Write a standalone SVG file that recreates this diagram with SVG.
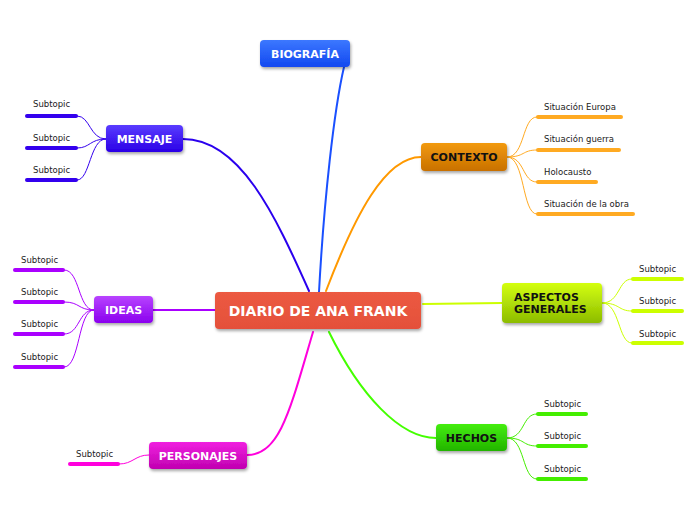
<svg xmlns="http://www.w3.org/2000/svg" width="696" height="520" viewBox="0 0 696 520">
<defs>
<filter id="sh" x="-20%" y="-30%" width="140%" height="170%"><feDropShadow dx="1" dy="2" stdDeviation="1.5" flood-color="#000" flood-opacity="0.35"/></filter>
<linearGradient id="gC" x1="0" y1="0" x2="0" y2="1"><stop offset="0" stop-color="#ec5a42"/><stop offset="1" stop-color="#e4503a"/></linearGradient>
<linearGradient id="gB" x1="0" y1="0" x2="0" y2="1"><stop offset="0" stop-color="#3c78ff"/><stop offset="1" stop-color="#1248f0"/></linearGradient>
<linearGradient id="gM" x1="0" y1="0" x2="0" y2="1"><stop offset="0" stop-color="#5a3cff"/><stop offset="1" stop-color="#2a00e6"/></linearGradient>
<linearGradient id="gX" x1="0" y1="0" x2="0" y2="1"><stop offset="0" stop-color="#f29a10"/><stop offset="1" stop-color="#c87000"/></linearGradient>
<linearGradient id="gA" x1="0" y1="0" x2="0" y2="1"><stop offset="0" stop-color="#d4ff10"/><stop offset="1" stop-color="#8cbc00"/></linearGradient>
<linearGradient id="gH" x1="0" y1="0" x2="0" y2="1"><stop offset="0" stop-color="#44ee10"/><stop offset="1" stop-color="#22b400"/></linearGradient>
<linearGradient id="gI" x1="0" y1="0" x2="0" y2="1"><stop offset="0" stop-color="#b844ff"/><stop offset="1" stop-color="#8a00ee"/></linearGradient>
<linearGradient id="gP" x1="0" y1="0" x2="0" y2="1"><stop offset="0" stop-color="#f020e0"/><stop offset="1" stop-color="#c000b0"/></linearGradient>
</defs>
<style>
.t{font-family:"DejaVu Sans","Liberation Sans",sans-serif;font-weight:bold;font-size:11px;}
.big{font-size:14px;}
.w{fill:#fff;}
.k{fill:#111;}
.s{font-family:"DejaVu Sans","Liberation Sans",sans-serif;font-size:8.5px;fill:#222;}
.c{fill:none;stroke-width:2;stroke-linecap:round;}
.b{fill:none;stroke-width:1;}
.u{stroke-width:4;stroke-linecap:round;}
</style>
<g id="connectors">
<path class="c" stroke="#1a50ff" d="M319,292 C324,200 334,110 344,67"/>
<path class="c" stroke="#2a00ee" d="M183,139 C240,139 275,215 309,291"/>
<path class="c" stroke="#ff9900" d="M326,291 C355,215 385,157 421,157"/>
<path class="c" stroke="#ccff00" d="M423,304 L502,303"/>
<path class="c" stroke="#44ff00" d="M329,332 C360,395 400,438 436,438"/>
<path class="c" stroke="#ff00dd" d="M313,332 C290,410 280,455 247,455"/>
<path class="c" stroke="#aa00ff" d="M215,310 L153,310"/>
<g stroke="#3300ee">
<path class="b" d="M106,139 C90,139 90,116 77,116"/>
<path class="b" d="M106,139 C90,139 90,148 77,148"/>
<path class="b" d="M106,139 C90,139 90,180 77,180"/>
<line class="u" x1="27" y1="116" x2="76" y2="116"/>
<line class="u" x1="27" y1="148" x2="76" y2="148"/>
<line class="u" x1="27" y1="180" x2="76" y2="180"/>
</g>
<g stroke="#ffaa22">
<path class="b" d="M507,157 C525,157 522,117 537,117"/>
<path class="b" d="M507,157 C525,157 522,150 537,150"/>
<path class="b" d="M507,157 C525,157 522,182 537,182"/>
<path class="b" d="M507,157 C525,157 522,214 537,214"/>
<line class="u" x1="538" y1="117" x2="621" y2="117"/>
<line class="u" x1="538" y1="150" x2="619" y2="150"/>
<line class="u" x1="538" y1="182" x2="596" y2="182"/>
<line class="u" x1="538" y1="214" x2="633" y2="214"/>
</g>
<g stroke="#ccff00">
<path class="b" d="M602,303 C620,303 618,279 632,279"/>
<path class="b" d="M602,303 C620,303 618,311 632,311"/>
<path class="b" d="M602,303 C620,303 618,343 632,343"/>
<line class="u" x1="633" y1="279" x2="682" y2="279"/>
<line class="u" x1="633" y1="311" x2="682" y2="311"/>
<line class="u" x1="633" y1="343" x2="682" y2="343"/>
</g>
<g stroke="#44ee00">
<path class="b" d="M507,438 C525,438 522,414 537,414"/>
<path class="b" d="M507,438 C525,438 522,446 537,446"/>
<path class="b" d="M507,438 C525,438 522,479 537,479"/>
<line class="u" x1="538" y1="414" x2="586" y2="414"/>
<line class="u" x1="538" y1="446" x2="586" y2="446"/>
<line class="u" x1="538" y1="479" x2="586" y2="479"/>
</g>
<g stroke="#aa00ff">
<path class="b" d="M94,310 C78,310 80,270 64,270"/>
<path class="b" d="M94,310 C78,310 80,302 64,302"/>
<path class="b" d="M94,310 C78,310 80,334 64,334"/>
<path class="b" d="M94,310 C78,310 80,367 64,367"/>
<line class="u" x1="15" y1="270" x2="63" y2="270"/>
<line class="u" x1="15" y1="302" x2="63" y2="302"/>
<line class="u" x1="15" y1="334" x2="63" y2="334"/>
<line class="u" x1="15" y1="367" x2="63" y2="367"/>
</g>
<g stroke="#ff00dd">
<path class="b" d="M149,455 C135,455 133,464 119,464"/>
<line class="u" x1="70" y1="464" x2="118" y2="464"/>
</g>
</g>
<g id="central"><rect x="215" y="292" width="206" height="37" rx="4" fill="url(#gC)" filter="url(#sh)"/><text class="t w big" x="318" y="316" text-anchor="middle">DIARIO DE ANA FRANK</text></g>
<g id="biografia"><rect x="260" y="40" width="90" height="27" rx="4" fill="url(#gB)" filter="url(#sh)"/><text class="t w" x="305" y="58" text-anchor="middle">BIOGRAFÍA</text></g>
<g id="mensaje"><rect x="106" y="125" width="77" height="27" rx="4" fill="url(#gM)" filter="url(#sh)"/><text class="t w" x="144.5" y="143" text-anchor="middle">MENSAJE</text>
<text class="s" x="33" y="107">Subtopic</text><text class="s" x="33" y="141">Subtopic</text><text class="s" x="33" y="173">Subtopic</text></g>
<g id="contexto"><rect x="421" y="143" width="86" height="28" rx="4" fill="url(#gX)" filter="url(#sh)"/><text class="t k" x="464" y="161" text-anchor="middle">CONTEXTO</text>
<text class="s" x="544" y="110">Situación Europa</text><text class="s" x="544" y="142">Situación guerra</text><text class="s" x="544" y="175">Holocausto</text><text class="s" x="544" y="207">Situación de la obra</text></g>
<g id="aspectos"><rect x="502" y="283" width="100" height="40" rx="4" fill="url(#gA)" filter="url(#sh)"/><text class="t k" x="514" y="301">ASPECTOS</text><text class="t k" x="514" y="313">GENERALES</text>
<text class="s" x="639" y="272">Subtopic</text><text class="s" x="639" y="304">Subtopic</text><text class="s" x="639" y="337">Subtopic</text></g>
<g id="hechos"><rect x="436" y="424" width="71" height="27" rx="4" fill="url(#gH)" filter="url(#sh)"/><text class="t k" x="471.5" y="442" text-anchor="middle">HECHOS</text>
<text class="s" x="544" y="407">Subtopic</text><text class="s" x="544" y="439">Subtopic</text><text class="s" x="544" y="472">Subtopic</text></g>
<g id="ideas"><rect x="94" y="296" width="59" height="27" rx="4" fill="url(#gI)" filter="url(#sh)"/><text class="t w" x="123.5" y="314" text-anchor="middle">IDEAS</text>
<text class="s" x="21" y="263">Subtopic</text><text class="s" x="21" y="295">Subtopic</text><text class="s" x="21" y="327">Subtopic</text><text class="s" x="21" y="360">Subtopic</text></g>
<g id="personajes"><rect x="149" y="442" width="98" height="27" rx="4" fill="url(#gP)" filter="url(#sh)"/><text class="t w" x="198" y="460" text-anchor="middle">PERSONAJES</text>
<text class="s" x="76" y="457">Subtopic</text></g>
</svg>
